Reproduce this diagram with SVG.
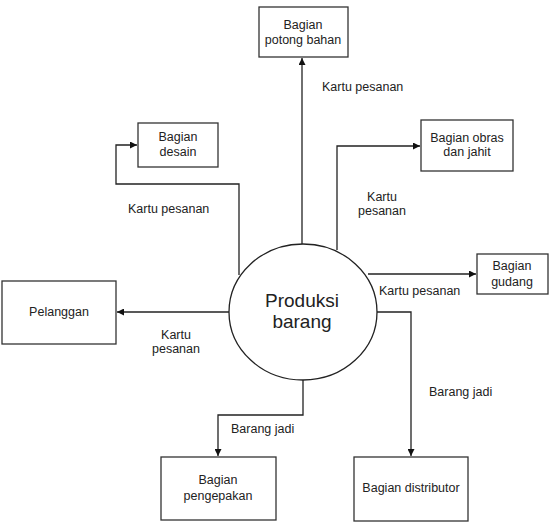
<svg xmlns="http://www.w3.org/2000/svg" width="557" height="522" viewBox="0 0 557 522">
<defs>
<style>
.box{fill:#fff;stroke:#333;stroke-width:1.3}
.t{font-family:"Liberation Sans",Arial,sans-serif;font-size:12.5px;fill:#222;text-anchor:middle}
.lbl{font-family:"Liberation Sans",Arial,sans-serif;font-size:12.5px;fill:#222}
.c{fill:none;stroke:#222;stroke-width:1.3}
</style>
<marker id="ah" viewBox="0 0 10 10" refX="10" refY="5" markerWidth="8" markerHeight="7" markerUnits="userSpaceOnUse" orient="auto">
<path d="M0,0 L10,5 L0,10 z" fill="#111"/>
</marker>
</defs>
<rect width="557" height="522" fill="#fff"/>
<g id="connectors">
<path class="c" d="M302,244 V58" marker-end="url(#ah)"/>
<path class="c" d="M239,275 V184 H116 V145 H137" marker-end="url(#ah)"/>
<path class="c" d="M337,250 V146 H420" marker-end="url(#ah)"/>
<path class="c" d="M368,274 H476" marker-end="url(#ah)"/>
<path class="c" d="M229,312 H117" marker-end="url(#ah)"/>
<path class="c" d="M303,380 V415 H218 V456" marker-end="url(#ah)"/>
<path class="c" d="M377,312 H411 V456" marker-end="url(#ah)"/>
<text class="lbl" x="322" y="91">Kartu pesanan</text>
<text class="lbl" x="128" y="213">Kartu pesanan</text>
<text class="t" x="382" y="201">Kartu</text>
<text class="t" x="382" y="215">pesanan</text>
<text class="lbl" x="379" y="295">Kartu pesanan</text>
<text class="t" x="176" y="339">Kartu</text>
<text class="t" x="176" y="353">pesanan</text>
<text class="lbl" x="231" y="433">Barang jadi</text>
<text class="lbl" x="429" y="396">Barang jadi</text>
</g>
<g id="produksi">
<ellipse cx="303" cy="312" rx="74" ry="68" fill="#fff" stroke="#222" stroke-width="1.3"/>
<text x="302" y="307" font-family="Liberation Sans, Arial, sans-serif" font-size="19" fill="#222" text-anchor="middle">Produksi</text>
<text x="302" y="328" font-family="Liberation Sans, Arial, sans-serif" font-size="19" fill="#222" text-anchor="middle">barang</text>
</g>
<g id="potong">
<rect class="box" x="259" y="7" width="89" height="50"/>
<text class="t" x="303" y="29">Bagian</text>
<text class="t" x="303" y="44">potong bahan</text>
</g>
<g id="desain">
<rect class="box" x="138" y="123" width="80" height="44"/>
<text class="t" x="178" y="141">Bagian</text>
<text class="t" x="178" y="156">desain</text>
</g>
<g id="obras">
<rect class="box" x="421" y="120" width="92" height="51"/>
<text class="t" x="467" y="142">Bagian obras</text>
<text class="t" x="467" y="156">dan jahit</text>
</g>
<g id="gudang">
<rect class="box" x="477" y="254" width="71" height="40"/>
<text class="t" x="512" y="270">Bagian</text>
<text class="t" x="512" y="286">gudang</text>
</g>
<g id="pelanggan">
<rect class="box" x="2" y="281" width="114" height="63"/>
<text class="t" x="59" y="316">Pelanggan</text>
</g>
<g id="pengepakan">
<rect class="box" x="161" y="457" width="115" height="63"/>
<text class="t" x="218" y="484">Bagian</text>
<text class="t" x="218" y="500">pengepakan</text>
</g>
<g id="distributor">
<rect class="box" x="354" y="457" width="114" height="64"/>
<text class="t" x="411" y="492">Bagian distributor</text>
</g>
</svg>
